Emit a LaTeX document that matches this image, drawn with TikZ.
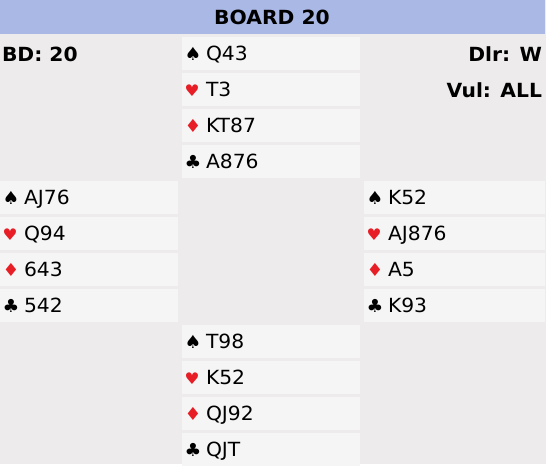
\documentclass[tikz,border=0pt]{standalone}
\usepackage{fontspec}
\setmainfont[FakeStretch=1.04]{DejaVu Sans}
\usetikzlibrary{positioning}

\definecolor{boardblue}{RGB}{170,184,230}
\definecolor{tablegrey}{RGB}{237,235,235}
\definecolor{cellgrey}{RGB}{245,245,245}
\definecolor{suitred}{RGB}{232,30,38}

\newcommand{\suitbox}[3]{\makebox[22pt][l]{\hspace{0.5pt}\textcolor{#1}{\fontsize{#2}{#2}\selectfont #3}}}
\newcommand{\spd}{\suitbox{black}{18}{♠}}
\newcommand{\hrt}{\suitbox{suitred}{16}{♥}}
\newcommand{\dmd}{\suitbox{suitred}{18}{♦}}
\newcommand{\clb}{\suitbox{black}{18}{♣}}

\begin{document}
\begin{tikzpicture}[x=1pt,y=-1pt]
	\tikzstyle{every node}=[outer sep=0pt]
	\tikzstyle{hand}=[fill=cellgrey,anchor=north west,text width=174pt,align=left,
		inner xsep=2pt,inner ysep=0pt,minimum height=33pt,text height=14pt,text depth=0pt,
		font=\fontsize{19.5}{21}\selectfont]
	\tikzstyle{info}=[font=\fontsize{19.5}{21}\selectfont\bfseries,inner sep=1pt]
	
	% table and header
	\fill[white] (0,0) rectangle (549,464);
	\fill[tablegrey] (0,0) rectangle (546,464);
	\fill[boardblue] (0,0) rectangle (545,34);
	\node[info] (title) at (272,17) {BOARD 20};
	\node[info,anchor=west] (bd) at (1,54) {BD: 20};
	\node[info,anchor=east] (dlr) at (543,54) {Dlr: W};
	\node[info,anchor=east] (vul) at (543,90) {Vul: ALL};
	
	% north
	\node[hand] (n1) at (182,37) {\spd Q43};
	\node[hand,below=3pt of n1.south west,anchor=north west] (n2) {\hrt T3};
	\node[hand,below=3pt of n2.south west,anchor=north west] (n3) {\dmd KT87};
	\node[hand,below=3pt of n3.south west,anchor=north west] (n4) {\clb A876};
	
	% west
	\node[hand] (w1) at (0,181) {\spd AJ76};
	\node[hand,below=3pt of w1.south west,anchor=north west] (w2) {\hrt Q94};
	\node[hand,below=3pt of w2.south west,anchor=north west] (w3) {\dmd 643};
	\node[hand,below=3pt of w3.south west,anchor=north west] (w4) {\clb 542};
	
	% east
	\node[hand,text width=177pt] (e1) at (364,181) {\spd K52};
	\node[hand,text width=177pt,below=3pt of e1.south west,anchor=north west] (e2) {\hrt AJ876};
	\node[hand,text width=177pt,below=3pt of e2.south west,anchor=north west] (e3) {\dmd A5};
	\node[hand,text width=177pt,below=3pt of e3.south west,anchor=north west] (e4) {\clb K93};
	
	% south
	\node[hand] (s1) at (182,325) {\spd T98};
	\node[hand,below=3pt of s1.south west,anchor=north west] (s2) {\hrt K52};
	\node[hand,below=3pt of s2.south west,anchor=north west] (s3) {\dmd QJ92};
	\node[hand,below=3pt of s3.south west,anchor=north west] (s4) {\clb QJT};
	
	\useasboundingbox (0,0) rectangle (549,464);
\end{tikzpicture}
\end{document}
